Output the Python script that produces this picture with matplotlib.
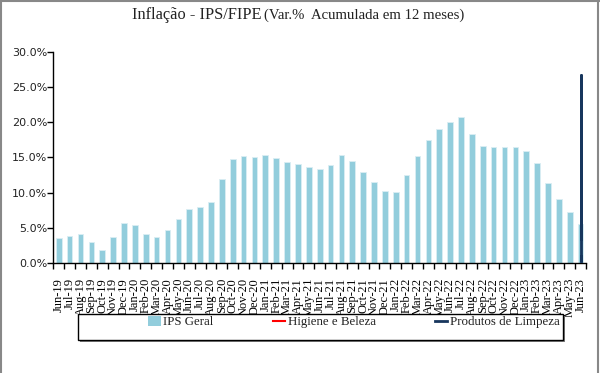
import matplotlib
matplotlib.use('Agg')
import matplotlib.pyplot as plt
import numpy as np
from matplotlib.patches import Rectangle
from matplotlib.lines import Line2D
from matplotlib.patches import Patch
from matplotlib.ticker import FuncFormatter

SERIF = ['Liberation Serif', 'DejaVu Serif']
SANS = ['DejaVu Sans']

months = ['Jun-19', 'Jul-19', 'Aug-19', 'Sep-19', 'Oct-19', 'Nov-19', 'Dec-19',
          'Jan-20', 'Feb-20', 'Mar-20', 'Apr-20', 'May-20', 'Jun-20', 'Jul-20',
          'Aug-20', 'Sep-20', 'Oct-20', 'Nov-20', 'Dec-20', 'Jan-21', 'Feb-21',
          'Mar-21', 'Apr-21', 'May-21', 'Jun-21', 'Jul-21', 'Aug-21', 'Sep-21',
          'Oct-21', 'Nov-21', 'Dec-21', 'Jan-22', 'Feb-22', 'Mar-22', 'Apr-22',
          'May-22', 'Jun-22', 'Jul-22', 'Aug-22', 'Sep-22', 'Oct-22', 'Nov-22',
          'Dec-22', 'Jan-23', 'Feb-23', 'Mar-23', 'Apr-23', 'May-23', 'Jun-23']

# var. % acumulada em 12 meses
ips_geral = [3.54, 3.87, 4.15, 2.97, 1.88, 3.78, 5.71, 5.43, 4.15, 3.78, 4.72,
             6.33, 7.65, 8.03, 8.69, 12.00, 14.83, 15.26, 15.03, 15.36, 14.93,
             14.36, 14.08, 13.60, 13.42, 13.98, 15.31, 14.50, 12.95, 11.48, 10.20,
             10.07, 12.52, 15.21, 17.48, 19.04, 20.03, 20.79, 18.33, 16.63, 16.44,
             16.49, 16.49, 15.92, 14.22, 11.38, 9.07, 7.23, 5.62]

higiene_beleza = [3.3, 3.8, 4.2, 4.5, 4.1, 4.6, 5.2, 5.6, 5.9, 6.1, 6.4,
                  6.8, 7.3, 7.9, 8.4, 9.2, 10.1, 10.8, 11.5, 12.1, 12.6,
                  13.0, 13.4, 13.9, 14.3, 14.8, 15.2, 15.6, 16.0, 16.3, 16.9,
                  17.4, 17.9, 18.5, 18.9, 18.6, 18.2, 17.7, 17.1, 16.4, 15.8,
                  15.1, 14.3, 13.5, 12.6, 11.2, 9.8, 8.1, 6.9]

produtos_limpeza = [0.2, 0.6, 1.1, 0.9, 0.5, 1.4, 2.3, 3.1, 3.6, 4.2, 5.8,
                    7.4, 9.6, 11.3, 13.2, 15.7, 18.1, 19.6, 20.4, 21.2, 21.9,
                    22.6, 23.1, 23.5, 23.9, 24.6, 25.2, 25.9, 26.3, 26.7, 26.1,
                    25.4, 24.8, 24.2, 23.6, 22.9, 21.8, 20.5, 19.3, 17.8, 16.2,
                    14.9, 13.1, 11.4, 9.7, 7.9, 6.2, 4.8, 3.5]

fig = plt.figure(figsize=(6, 3.73), dpi=100)
ax = fig.add_axes([0.0889, 0.2941, 0.8878, 0.5673])

x = np.arange(len(months))
ax.bar(x, ips_geral, width=0.52, color='#92CDDC', edgecolor='#DAEEF3',
       linewidth=0.6, zorder=2)

# no gráfico original as duas séries de linha ficaram todas sobre a última categoria
x_last = np.full(len(months), x[-1])
ax.plot(x_last, higiene_beleza, color='#FF0000', linewidth=1.2, zorder=3)
ax.plot(x_last, produtos_limpeza, color='#17365D', linewidth=2.0, zorder=4)

ax.set_xlim(-0.5, len(months) - 0.5)
ax.set_ylim(0, 30)
ax.set_yticks(np.arange(0, 30.1, 5))
ax.yaxis.set_major_formatter(FuncFormatter(lambda v, p: f'{v:.1f}%'))
ax.set_xticks(x)
ax.set_xticklabels(months, rotation=90, family=SERIF, fontsize=9.0)
ax.set_xticks(np.arange(-0.5, len(months)), minor=True)
ax.tick_params(axis='x', which='major', length=0, pad=10.5)
ax.tick_params(axis='x', which='minor', length=4, width=1, color='black')
ax.tick_params(axis='y', length=4, width=1, pad=0.5, labelsize=8)
for lab in ax.get_yticklabels():
    lab.set_family(SANS)
    lab.set_color('#222222')

for s in ['top', 'right']:
    ax.spines[s].set_visible(False)
for s in ['left', 'bottom']:
    ax.spines[s].set_color('black')
    ax.spines[s].set_linewidth(1)

# título
ty = 1 - 19 / 373
fig.text(261 / 600, ty, 'Inflação - IPS/FIPE', ha='right', va='baseline',
         family=SERIF, fontsize=11.8, color='#222222')
fig.text(264 / 600, ty, '(Var.%  Acumulada em 12 meses)', ha='left', va='baseline',
         family=SERIF, fontsize=10.6, color='#222222')

# caixa da legenda
W, H = 600, 373
fig.patches.append(Rectangle((80 / W, 1 - 342 / H), 485 / W, 26 / H,
                             transform=fig.transFigure, facecolor='#808080',
                             edgecolor='none', zorder=0))
fig.patches.append(Rectangle((78 / W, 1 - 340 / H), 485 / W, 26 / H,
                             transform=fig.transFigure, facecolor='white',
                             edgecolor='black', linewidth=1, zorder=1))

handles = [Patch(facecolor='#92CDDC', edgecolor='none'),
           Line2D([], [], color='#FF0000', linewidth=1.5),
           Line2D([], [], color='#17365D', linewidth=2.0)]
leg = fig.legend(handles, ['IPS Geral', 'Higiene e Beleza', 'Produtos de Limpeza'],
                 loc='center', bbox_to_anchor=(354 / W, 1 - 322 / H), ncol=3,
                 frameon=False, prop={'family': SERIF, 'size': 9.3},
                 handlelength=0.95, handleheight=0.9, handletextpad=0.2,
                 columnspacing=4.6, borderaxespad=0)
for t in leg.get_texts():
    t.set_color('#222222')

# moldura externa
for xs, ys in [([1 / W, 1 / W], [0, 1]), ([597.5 / W, 597.5 / W], [0, 1]),
               ([0, 1], [1 - 0.5 / H, 1 - 0.5 / H])]:
    fig.add_artist(Line2D(xs, ys, transform=fig.transFigure, color='#888888',
                          linewidth=1.5))

fig.savefig('out.png', dpi=100)
